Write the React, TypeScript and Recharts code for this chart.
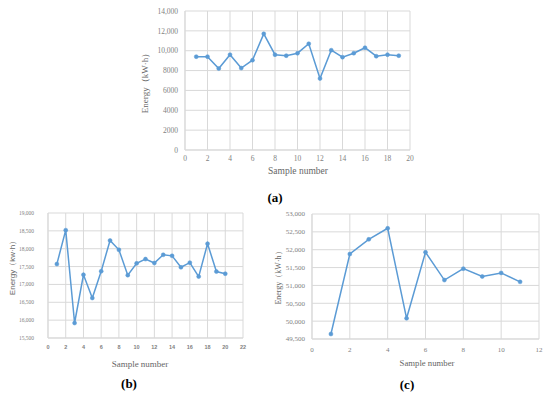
import React from 'react';
import { LineChart, Line, XAxis, YAxis, CartesianGrid } from 'recharts';

// Chart (a)
const samplesA = [1, 2, 3, 4, 5, 6, 7, 8, 9, 10, 11, 12, 13, 14, 15, 16, 17, 18, 19];
const energyA = [9400, 9400, 8200, 9600, 8250, 9050, 11700, 9600, 9500, 9750, 10700, 7200, 10050, 9350, 9750, 10300, 9450, 9600, 9500];
const xTicksA = [0, 2, 4, 6, 8, 10, 12, 14, 16, 18, 20];
const yTicksA = [0, 2000, 4000, 6000, 8000, 10000, 12000, 14000];

// Chart (b)
const samplesB = [1, 2, 3, 4, 5, 6, 7, 8, 9, 10, 11, 12, 13, 14, 15, 16, 17, 18, 19, 20];
const energyB = [17570, 18520, 15920, 17270, 16620, 17370, 18230, 17970, 17260, 17590, 17710, 17600, 17830, 17800, 17480, 17610, 17220, 18140, 17360, 17300];
const xTicksB = [0, 2, 4, 6, 8, 10, 12, 14, 16, 18, 20, 22];
const yTicksB = [15500, 16000, 16500, 17000, 17500, 18000, 18500, 19000];

// Chart (c)
const samplesC = [1, 2, 3, 4, 5, 6, 7, 8, 9, 10, 11];
const energyC = [49640, 51880, 52290, 52600, 50080, 51930, 51150, 51470, 51250, 51350, 51100];
const xTicksC = [0, 2, 4, 6, 8, 10, 12];
const yTicksC = [49500, 50000, 50500, 51000, 51500, 52000, 52500, 53000];

const dataA = samplesA.map((x, i) => ({ x, y: energyA[i] }));
const dataB = samplesB.map((x, i) => ({ x, y: energyB[i] }));
const dataC = samplesC.map((x, i) => ({ x, y: energyC[i] }));

const BLUE = '#5B9BD5';
const GRID = '#D9D9D9';
const TICK = '#7F7F7F';
const SERIF = "'Liberation Serif', 'DejaVu Serif', serif";
const SANS = "'Liberation Sans', 'DejaVu Sans', sans-serif";

const fmtExcel = (v: number) => (v >= 10000 ? v.toLocaleString('en-US') : String(v));
const fmtComma = (v: number) => v.toLocaleString('en-US');

const dotStyle = { r: 2, fill: BLUE, stroke: BLUE, strokeWidth: 0.5 };

export default function App() {
  return (
    <div style={{ position: 'absolute', left: 0, top: 0, width: 550, height: 397, background: '#fff', overflow: 'hidden' }}>
      {/* (a) */}
      <div style={{ position: 'absolute', left: 0, top: 0 }}>
        <LineChart width={420} height={180} data={dataA} margin={{ top: 11, right: 10, left: 0, bottom: 0 }}>
          <CartesianGrid stroke={GRID} />
          <XAxis
            type="number"
            dataKey="x"
            domain={[0, 20]}
            ticks={xTicksA}
            interval={0}
            height={30}
            tickLine={false}
            tickSize={4}
            tickMargin={2}
            axisLine={{ stroke: GRID }}
            tick={{ fill: TICK, fontSize: 7.5, style: { fontFamily: SERIF } }}
          />
          <YAxis
            type="number"
            domain={[0, 14000]}
            ticks={yTicksA}
            interval={0}
            width={185}
            tickLine={false}
            tickSize={5}
            tickMargin={2}
            axisLine={{ stroke: GRID }}
            tickFormatter={fmtExcel}
            tick={{ fill: TICK, fontSize: 7.5, style: { fontFamily: SERIF } }}
          />
          <Line type="linear" dataKey="y" stroke={BLUE} strokeWidth={1.5} dot={dotStyle} isAnimationActive={false} />
        </LineChart>
      </div>

      {/* (b) */}
      <div style={{ position: 'absolute', left: 0, top: 200 }}>
        <LineChart width={275} height={197} data={dataB} margin={{ top: 13, right: 32, left: 0, bottom: 24 }}>
          <CartesianGrid stroke={GRID} />
          <XAxis
            type="number"
            dataKey="x"
            domain={[0, 22]}
            ticks={xTicksB}
            interval={0}
            height={35}
            tickLine={false}
            tickSize={5}
            tickMargin={2}
            axisLine={{ stroke: GRID }}
            tick={{ fill: TICK, fontSize: 5.5, fontWeight: 'bold', style: { fontFamily: SANS } }}
          />
          <YAxis
            type="number"
            domain={[15500, 19000]}
            ticks={yTicksB}
            interval={0}
            width={48}
            tickLine={false}
            tickSize={12}
            tickMargin={2}
            axisLine={{ stroke: GRID }}
            tickFormatter={fmtComma}
            tick={{ fill: TICK, fontSize: 5.5, style: { fontFamily: SERIF } }}
          />
          <Line type="linear" dataKey="y" stroke={BLUE} strokeWidth={1.5} dot={dotStyle} isAnimationActive={false} />
        </LineChart>
      </div>

      {/* (c) */}
      <div style={{ position: 'absolute', left: 275, top: 200 }}>
        <LineChart width={275} height={197} data={dataC} margin={{ top: 14, right: 11, left: 0, bottom: 23 }}>
          <CartesianGrid stroke={GRID} />
          <XAxis
            type="number"
            dataKey="x"
            domain={[0, 12]}
            ticks={xTicksC}
            interval={0}
            height={35}
            tickLine={false}
            tickSize={6}
            tickMargin={2}
            axisLine={{ stroke: GRID }}
            tick={{ fill: TICK, fontSize: 7, style: { fontFamily: SERIF } }}
          />
          <YAxis
            type="number"
            domain={[49500, 53000]}
            ticks={yTicksC}
            interval={0}
            width={37}
            tickLine={false}
            tickSize={5}
            tickMargin={2}
            axisLine={{ stroke: GRID }}
            tickFormatter={fmtComma}
            tick={{ fill: TICK, fontSize: 7, style: { fontFamily: SERIF } }}
          />
          <Line type="linear" dataKey="y" stroke={BLUE} strokeWidth={1.5} dot={dotStyle} isAnimationActive={false} />
        </LineChart>
      </div>

      {/* Axis titles and captions */}
      <svg width={550} height={397} style={{ position: 'absolute', left: 0, top: 0, pointerEvents: 'none' }}>
        <g fill="#666" style={{ fontFamily: SERIF }}>
          <text x={298} y={171} fontSize={9.5} textAnchor="middle" dominantBaseline="central">Sample number</text>
          <text x={145} y={81} fontSize={9} textAnchor="middle" dominantBaseline="central" transform="rotate(-90 145 81)">Energy（kW·h）</text>

          <text x={140} y={364} fontSize={9} textAnchor="middle" dominantBaseline="central">Sample number</text>
          <text x={12} y={266} fontSize={8} style={{ fontFamily: SANS }} textAnchor="middle" dominantBaseline="central" transform="rotate(-90 12 266)">Energy（kw·h）</text>

          <text x={427} y={363} fontSize={8.7} textAnchor="middle" dominantBaseline="central">Sample number</text>
          <text x={278} y={276} fontSize={8} textAnchor="middle" dominantBaseline="central" transform="rotate(-90 278 276)">Energy（kW·h）</text>
        </g>
        <g fill="#000" fontWeight="bold" fontSize={13} style={{ fontFamily: SERIF }}>
          <text x={275} y={197} textAnchor="middle" dominantBaseline="central">(a)</text>
          <text x={129} y={383} textAnchor="middle" dominantBaseline="central">(b)</text>
          <text x={407} y={384} textAnchor="middle" dominantBaseline="central">(c)</text>
        </g>
      </svg>
    </div>
  );
}
